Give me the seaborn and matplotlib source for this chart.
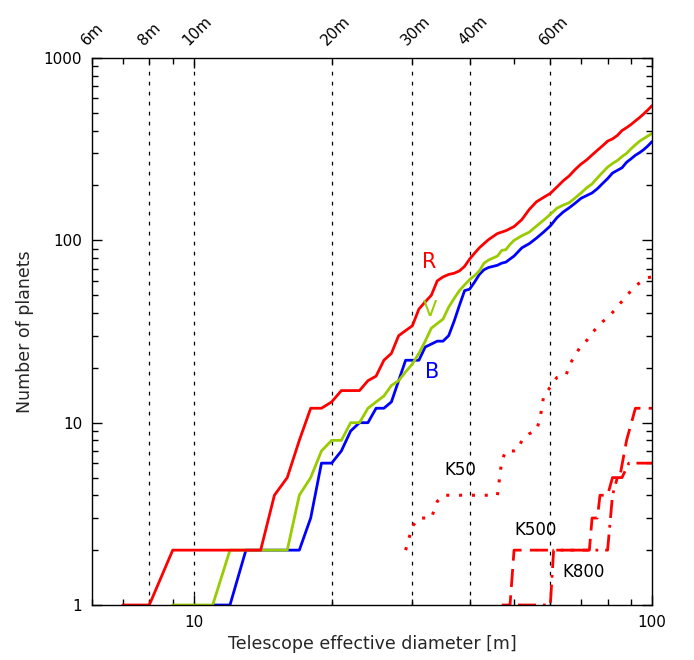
import matplotlib
matplotlib.use("Agg")
import matplotlib.pyplot as plt
import matplotlib.transforms as mtrans
from matplotlib.ticker import FixedLocator, NullFormatter, FuncFormatter
import seaborn as sns
import pandas as pd

# ---------------- data ----------------
diam_R = list(range(7, 51)) + list(range(52, 101, 2))
planets_R = [1, 1, 2, 2, 2, 2, 2, 2, 4, 5, 8, 12, 12, 13, 15, 15, 15, 17, 18, 22,
             24, 30, 32, 34, 42, 46, 50, 60, 63, 65, 66, 68, 72, 79, 85, 91, 96, 101,
             105, 109, 111, 113, 116, 119,
             130, 148, 163, 172, 181, 196, 212, 226, 245, 262, 276, 294, 312, 330,
             350, 360, 376, 400, 415, 432, 452, 472, 495, 520, 548]

diam_V = list(range(9, 51)) + list(range(52, 101, 2))
planets_V = [1, 1, 1, 2, 2, 2, 2, 2, 4, 5, 7, 8, 8, 10, 10, 12, 13, 14, 16, 17,
             19, 21, 24, 28, 33, 35, 37, 43, 48, 53, 57, 61, 64, 68, 75, 78, 80, 82,
             88, 89, 95, 100,
             106, 111, 120, 129, 139, 150, 156, 161, 171, 182, 194, 204, 220, 236,
             252, 264, 274, 288, 300, 318, 334, 350, 362, 374, 385]

diam_B = list(range(11, 51)) + list(range(52, 101, 2))
planets_B = [1, 1, 2, 2, 2, 2, 2, 3, 6, 6, 7, 9, 10, 10, 12, 12, 13, 17, 22, 22,
             22, 26, 27, 28, 28, 30, 36, 44, 53, 54, 59, 65, 69, 71, 72, 73, 75, 76,
             79, 82,
             91, 96, 103, 111, 120, 133, 143, 151, 160, 170, 176, 182, 192, 205,
             218, 234, 242, 250, 268, 280, 293, 303, 315, 330, 348]

diam_K50 = [29, 30, 31, 32, 33, 34, 35, 36, 38, 40, 42, 44, 46, 47, 48, 50, 51, 52,
            54, 56, 57, 58, 60, 62, 64, 65, 66, 68, 70, 72, 74, 76, 78, 80, 82, 84,
            86, 88, 90, 92, 94, 96, 98, 100]
planets_K50 = [2, 2.7, 3, 3, 3, 3.7, 4, 4, 4, 4, 4, 4, 4, 6.2, 7, 7, 7.1, 8, 8.7,
               9.1, 10.6, 13.9, 15.7, 17.7, 18, 18.3, 20.7, 23.5, 26.4, 28.2, 31,
               33.5, 35.8, 37.6, 40.2, 43.3, 46.3, 49.5, 53, 56.2, 58.5, 60.8, 62.5, 63]

diam_K500 = [47, 49, 50, 73, 74, 76, 77, 80, 82, 85, 88, 92, 100]
planets_K500 = [1, 1, 2, 2, 3, 3, 4, 4, 5, 5, 8, 12, 12]

diam_K800 = [51, 60, 61, 80, 82, 84, 86, 89, 100]
planets_K800 = [1, 1, 2, 2, 4, 5, 5, 6, 6]

ref_diams = [8, 10, 20, 30, 40, 60]
top_ticks = [6, 8, 10, 20, 30, 40, 60]
top_labels = ["6m", "8m", "10m", "20m", "30m", "40m", "60m"]

# ---------------- style ----------------
sns.set_style("ticks")
plt.rcParams['font.family'] = ['DejaVu Sans']
plt.rcParams['axes.linewidth'] = 1.0

fig = plt.figure(figsize=(6.94, 6.60), dpi=100)
ax = fig.add_axes([0.1326, 0.0833, 0.8069, 0.8288])
ax.set_xscale('log')
ax.set_yscale('log')

for d in ref_diams:
    ax.axvline(d, color='black', lw=0.9, ls=(0, (3, 5)), zorder=1)

def draw(xs, ys, color, ls, lw=2.0):
    df = pd.DataFrame({'diam': xs, 'n': ys})
    sns.lineplot(data=df, x='diam', y='n', ax=ax, color=color, lw=lw,
                 estimator=None, sort=False, legend=False)
    ax.lines[-1].set_linestyle(ls)

draw(diam_B, planets_B, '#0000ff', '-')
draw(diam_V, planets_V, '#99cc00', '-')
draw(diam_R, planets_R, '#ff0000', '-')
draw(diam_K50, planets_K50, '#ff0000', (0, (1, 3.2)), lw=2.2)
draw(diam_K500, planets_K500, '#ff0000', (0, (6.5, 3)))
draw(diam_K800, planets_K800, '#ff0000', (0, (6.5, 2.5, 1, 2.5)))

ax.set_xlim(6, 100)
ax.set_ylim(1, 1000)

# ticks
ax.xaxis.set_major_locator(FixedLocator([10, 100]))
ax.xaxis.set_minor_locator(FixedLocator([6, 7, 8, 9, 20, 30, 40, 50, 60, 70, 80, 90]))
ax.xaxis.set_major_formatter(FuncFormatter(lambda v, p: f"{v:g}"))
ax.xaxis.set_minor_formatter(NullFormatter())
ax.yaxis.set_major_locator(FixedLocator([1, 10, 100, 1000]))
ax.yaxis.set_minor_locator(FixedLocator([m * 10 ** e for e in range(3) for m in range(2, 10)]))
ax.yaxis.set_major_formatter(FuncFormatter(lambda v, p: f"{v:g}"))
ax.yaxis.set_minor_formatter(NullFormatter())
ax.tick_params(which='both', direction='in', top=True, right=True, colors='black',
               labelsize=11)
ax.tick_params(which='major', length=7, width=1, pad=7)
ax.tick_params(which='minor', length=4, width=1)

for s in ax.spines.values():
    s.set_color('black')
    s.set_linewidth(1.0)

ax.set_xlabel("Telescope effective diameter [m]", fontsize=12.5, labelpad=4)
ax.set_ylabel("Number of planets", fontsize=12.5, labelpad=7)

# top labels
off = mtrans.ScaledTranslation(-3 / 100, 10 / 100, fig.dpi_scale_trans)
tr = mtrans.blended_transform_factory(ax.transData, ax.transAxes) + off
for t, lab in zip(top_ticks, top_labels):
    ax.text(t, 1.0, lab, transform=tr, rotation=45, rotation_mode='anchor',
            ha='left', va='bottom', fontsize=11, color='black')

# curve labels
ax.text(32.6, 76, "R", color='#ff0000', fontsize=15, ha='center', va='center')
ax.text(32.8, 41.5, "V", color='#99cc00', fontsize=15, ha='center', va='center')
ax.text(33.1, 19, "B", color='#0000ff', fontsize=15, ha='center', va='center')
ax.text(38.2, 5.5, "K50", color='black', fontsize=12, ha='center', va='center')
ax.text(55.7, 2.58, "K500", color='black', fontsize=12, ha='center', va='center')
ax.text(70.8, 1.52, "K800", color='black', fontsize=12, ha='center', va='center')

fig.savefig("out.png", dpi=100)
